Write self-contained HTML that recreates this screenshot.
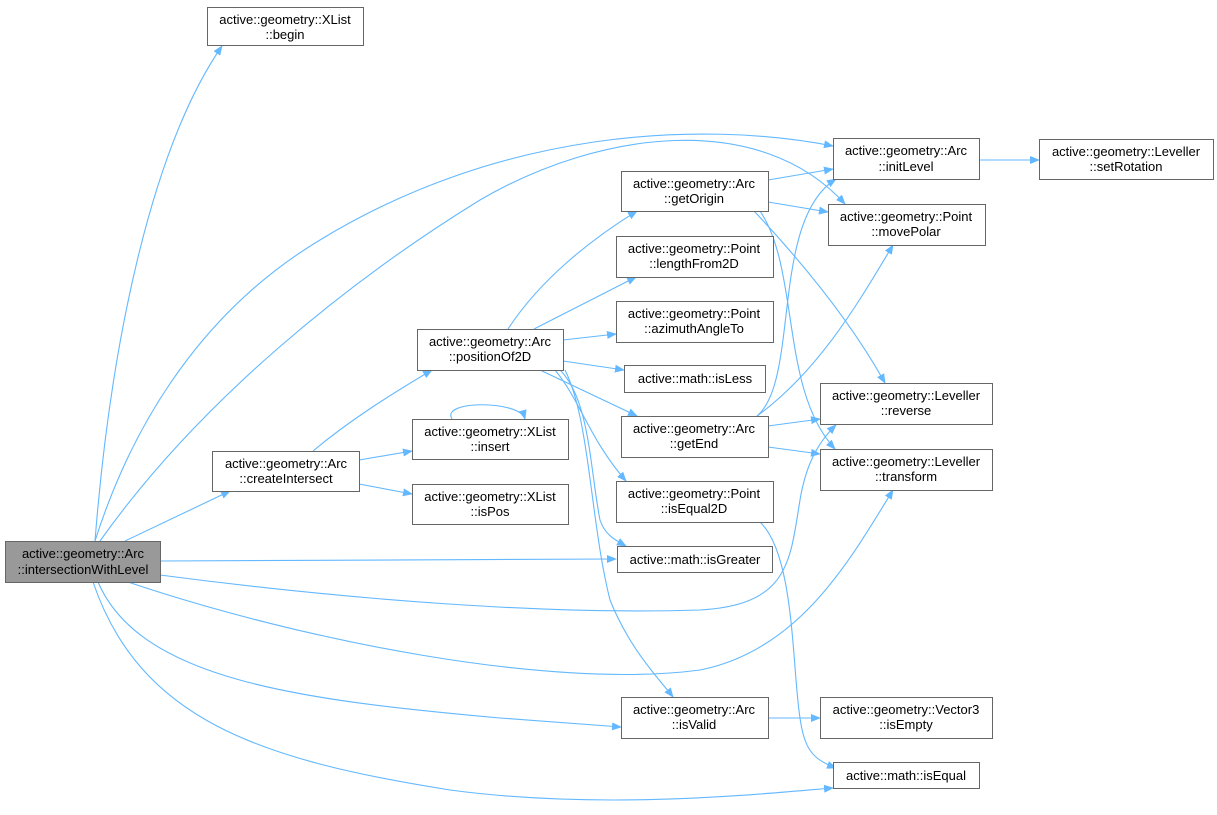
<!DOCTYPE html>
<html><head><meta charset="utf-8"><style>
html,body{margin:0;padding:0;background:#fff;}
svg{display:block;}
text{font-family:"Liberation Sans",sans-serif;font-size:13px;fill:#000;text-anchor:middle;}
.n{fill:#fff;stroke:#666;stroke-width:1;}
.e{fill:none;stroke:#63b8ff;stroke-width:1.1;}
</style></head><body>
<svg width="1217" height="815" viewBox="0 0 1217 815">
<defs><marker id="a" viewBox="0 0 10 10" refX="9" refY="5" markerWidth="10" markerHeight="10" markerUnits="userSpaceOnUse" orient="auto"><path d="M0,1 L10,5 L0,9 z" fill="#63b8ff"/></marker></defs>
<g marker-end="url(#a)">
<path class="e" d="M95,541 C110,350 150,150 222,46"/>
<path class="e" d="M95,541 C140,400 220,300 320,240 C500,130 700,120 833,146"/>
<path class="e" d="M100,541 C200,400 350,280 480,200 C600,130 760,110 845,204"/>
<path class="e" d="M125,541 L230,491"/>
<path class="e" d="M160,561 L616,559"/>
<path class="e" d="M160,575 C350,600 550,615 700,610 C790,605 790,560 800,500 C805,470 815,445 836,425"/>
<path class="e" d="M128,582 C300,640 550,690 700,670 C800,650 850,560 893,490"/>
<path class="e" d="M98,582 C140,680 300,700 500,718 L621,727"/>
<path class="e" d="M93,582 C140,720 260,760 450,790 C600,810 750,795 833,788"/>
<path class="e" d="M313,451 C350,420 390,395 432,370"/>
<path class="e" d="M359,460 L412,451"/>
<path class="e" d="M359,484 L412,494"/>
<path class="e" d="M452,419 C440,400 520,400 525,419"/>
<path class="e" d="M508,329 C540,280 590,240 637,211"/>
<path class="e" d="M534,329 L636,277"/>
<path class="e" d="M563,340 L616,334"/>
<path class="e" d="M563,361 L624,370"/>
<path class="e" d="M540,370 L637,416"/>
<path class="e" d="M555,370 C580,400 590,440 626,481"/>
<path class="e" d="M560,370 C590,400 590,470 600,520 C605,535 615,540 626,546"/>
<path class="e" d="M565,370 C590,420 590,520 610,600 C630,650 660,680 673,697"/>
<path class="e" d="M768,180 L833,169"/>
<path class="e" d="M768,202 L828,212"/>
<path class="e" d="M754,211 C800,260 850,320 885,383"/>
<path class="e" d="M760,211 C800,270 780,390 835,449"/>
<path class="e" d="M979,160 L1039,160"/>
<path class="e" d="M757,416 C800,380 770,220 836,179"/>
<path class="e" d="M757,416 C820,370 860,300 893,245"/>
<path class="e" d="M768,426 L820,419"/>
<path class="e" d="M768,447 L820,454"/>
<path class="e" d="M760,522 C800,560 790,700 805,740 C810,755 820,762 836,768"/>
<path class="e" d="M768,718 L820,718"/>
</g>
<rect x="5.5" y="541.5" width="155" height="41" fill="#999" stroke="#666"/>
<text x="83" y="558">active::geometry::Arc</text><text x="83" y="574">::intersectionWithLevel</text>
<rect class="n" x="207.5" y="7.5" width="156" height="38"/><text x="285" y="24">active::geometry::XList</text><text x="285" y="39">::begin</text>
<rect class="n" x="833.5" y="138.5" width="146" height="41"/><text x="906" y="155">active::geometry::Arc</text><text x="906" y="171">::initLevel</text>
<rect class="n" x="1039.5" y="139.5" width="174" height="40"/><text x="1126" y="156">active::geometry::Leveller</text><text x="1126" y="171">::setRotation</text>
<rect class="n" x="621.5" y="171.5" width="147" height="40"/><text x="694" y="188">active::geometry::Arc</text><text x="694" y="203">::getOrigin</text>
<rect class="n" x="828.5" y="204.5" width="157" height="41"/><text x="906" y="221">active::geometry::Point</text><text x="906" y="236">::movePolar</text>
<rect class="n" x="616.5" y="236.5" width="157" height="41"/><text x="694" y="253">active::geometry::Point</text><text x="694" y="268">::lengthFrom2D</text>
<rect class="n" x="616.5" y="301.5" width="157" height="41"/><text x="694" y="318">active::geometry::Point</text><text x="694" y="333">::azimuthAngleTo</text>
<rect class="n" x="417.5" y="329.5" width="146" height="41"/><text x="490" y="346">active::geometry::Arc</text><text x="490" y="361">::positionOf2D</text>
<rect class="n" x="624.5" y="365.5" width="141" height="27"/><text x="695" y="383">active::math::isLess</text>
<rect class="n" x="820.5" y="383.5" width="172" height="41"/><text x="906" y="400">active::geometry::Leveller</text><text x="906" y="415">::reverse</text>
<rect class="n" x="621.5" y="416.5" width="147" height="41"/><text x="694" y="433">active::geometry::Arc</text><text x="694" y="448">::getEnd</text>
<rect class="n" x="412.5" y="419.5" width="156" height="40"/><text x="490" y="436">active::geometry::XList</text><text x="490" y="451">::insert</text>
<rect class="n" x="212.5" y="451.5" width="147" height="40"/><text x="286" y="468">active::geometry::Arc</text><text x="286" y="483">::createIntersect</text>
<rect class="n" x="820.5" y="449.5" width="172" height="41"/><text x="906" y="466">active::geometry::Leveller</text><text x="906" y="481">::transform</text>
<rect class="n" x="616.5" y="481.5" width="157" height="41"/><text x="694" y="498">active::geometry::Point</text><text x="694" y="513">::isEqual2D</text>
<rect class="n" x="412.5" y="484.5" width="156" height="40"/><text x="490" y="501">active::geometry::XList</text><text x="490" y="516">::isPos</text>
<rect class="n" x="617.5" y="546.5" width="155" height="26"/><text x="695" y="564">active::math::isGreater</text>
<rect class="n" x="621.5" y="697.5" width="147" height="41"/><text x="694" y="714">active::geometry::Arc</text><text x="694" y="729">::isValid</text>
<rect class="n" x="820.5" y="697.5" width="172" height="41"/><text x="906" y="714">active::geometry::Vector3</text><text x="906" y="729">::isEmpty</text>
<rect class="n" x="833.5" y="762.5" width="146" height="26"/><text x="906" y="780">active::math::isEqual</text>
</svg>
</body></html>
